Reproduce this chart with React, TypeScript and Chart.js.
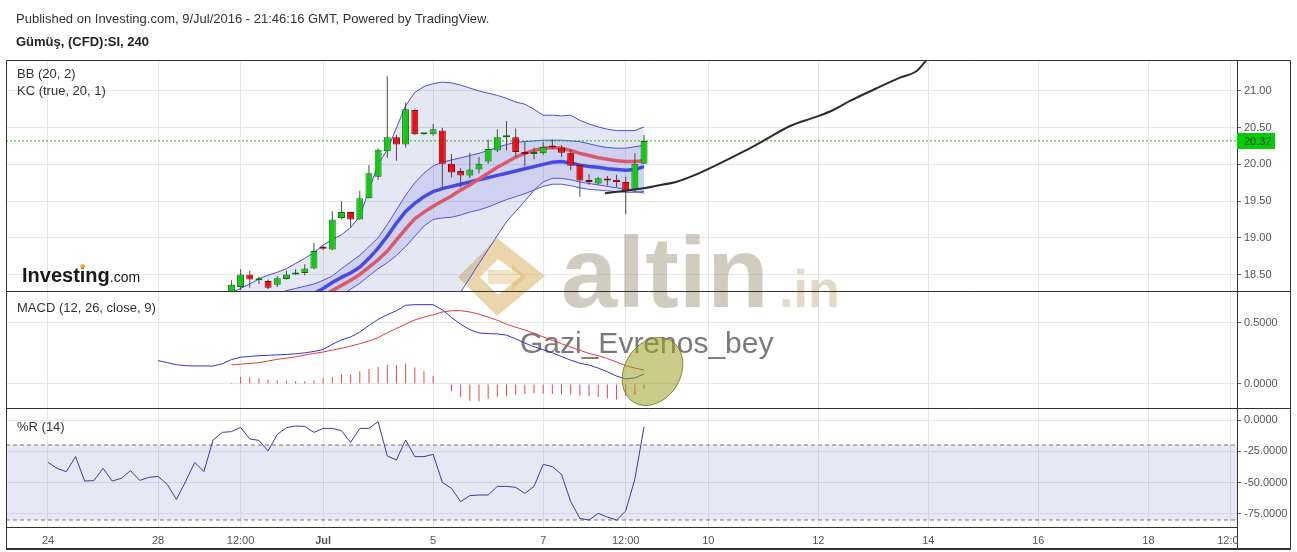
import React, { useEffect, useRef } from 'react';
import { Chart, registerables } from 'chart.js';

// ---------- texts ----------
const HEADER = 'Published on Investing.com, 9/Jul/2016 - 21:46:16 GMT, Powered by TradingView.';
const SYMBOL = 'Gümüş, (CFD):SI, 240';
const BB_LABEL = 'BB (20, 2)';
const KC_LABEL = 'KC (true, 20, 1)';
const MACD_LABEL = 'MACD (12, 26, close, 9)';
const WR_LABEL = '%R (14)';

// ---------- x axis (bar index, 4h bars) ----------
const X_MIN = -4.58;
const X_MAX = 129.66;
const X_TICK_POS = [0, 12, 21, 30, 42, 54, 63, 72, 84, 96, 108, 120, 129];
const X_TICK_LABELS = ['24', '28', '12:00', 'Jul', '5', '7', '12:00', '10', '12', '14', '16', '18', '12:00'];

// ---------- y axes ----------
const PRICE_MIN = 18.275;
const PRICE_MAX = 21.422;
const PRICE_TICKS = [18.5, 19, 19.5, 20, 20.5, 21];
const MACD_MIN = -0.197;
const MACD_MAX = 0.762;
const MACD_TICKS = [0, 0.5];
const WR_MIN = -85.6;
const WR_MAX = 9.6;
const WR_TICKS = [-75, -50, -25, 0];
const WR_BANDS = [-20, -80];
const LAST_PRICE = 20.32;

// ---------- candles (index 20..65) ----------
const CANDLE_START = 20;
const OPEN = [18.24, 18.33, 18.5, 18.42, 18.41, 18.36, 18.44, 18.5, 18.52, 18.58, 18.86, 18.84, 19.27, 19.35, 19.25, 19.54, 19.83, 20.18, 20.37, 20.27, 20.74, 20.41, 20.41, 20.46, 20.01, 19.91, 19.85, 19.93, 20.04, 20.19, 20.37, 20.37, 20.17, 20.14, 20.15, 20.25, 20.23, 20.16, 19.99, 19.78, 19.74, 19.8, 19.79, 19.76, 19.65, 20.01];
const HIGH = [18.42, 18.57, 18.55, 18.47, 18.43, 18.48, 18.55, 18.57, 18.64, 18.93, 18.89, 19.36, 19.5, 19.35, 19.64, 19.99, 20.22, 21.2, 20.4, 20.84, 20.76, 20.42, 20.55, 20.5, 20.14, 19.95, 20.16, 20.1, 20.34, 20.48, 20.59, 20.49, 20.31, 20.23, 20.3, 20.34, 20.26, 20.2, 19.99, 19.87, 19.83, 19.84, 19.86, 19.83, 20.15, 20.4];
const LOW = [18.18, 18.29, 18.32, 18.37, 18.3, 18.33, 18.43, 18.49, 18.49, 18.57, 18.83, 18.83, 19.25, 19.14, 19.25, 19.54, 19.79, 20.09, 20.05, 20.23, 20.4, 20.4, 20.39, 19.69, 19.82, 19.69, 19.81, 19.88, 20.01, 20.17, 20.19, 20.1, 19.97, 20.07, 20.13, 20.21, 20.1, 19.92, 19.56, 19.72, 19.72, 19.71, 19.69, 19.32, 19.63, 20.01];
const CLOSE = [18.36, 18.5, 18.43, 18.43, 18.32, 18.45, 18.5, 18.52, 18.58, 18.82, 18.85, 19.25, 19.35, 19.25, 19.54, 19.88, 20.2, 20.37, 20.27, 20.75, 20.41, 20.42, 20.48, 20.01, 19.89, 19.85, 19.93, 20.01, 20.21, 20.37, 20.38, 20.17, 20.14, 20.17, 20.24, 20.23, 20.16, 19.98, 19.78, 19.76, 19.81, 19.78, 19.76, 19.64, 20.01, 20.32];

// ---------- Bollinger Bands (20, 2) ----------
const BB_START = 18;
const BB_UPPER = [18.12, 18.18, 18.25, 18.31, 18.37, 18.44, 18.49, 18.53, 18.58, 18.65, 18.72, 18.8, 18.9, 18.98, 19.04, 19.14, 19.29, 19.65, 20.0, 20.2, 20.5, 20.8, 20.98, 21.06, 21.1, 21.12, 21.11, 21.08, 21.04, 21.0, 20.97, 20.94, 20.9, 20.85, 20.82, 20.75, 20.67, 20.67, 20.66, 20.67, 20.6, 20.55, 20.51, 20.48, 20.46, 20.46, 20.46, 20.51];
const BB_LOWER = [17.8, 17.82, 17.84, 17.86, 17.88, 17.9, 17.93, 17.95, 17.97, 17.99, 18.01, 18.02, 18.02, 18.0, 17.98, 17.93, 17.85, 17.72, 17.62, 17.55, 17.5, 17.48, 17.55, 17.65, 17.78, 17.92, 18.08, 18.26, 18.45, 18.65, 18.84, 19.03, 19.22, 19.36, 19.5, 19.65, 19.76, 19.81, 19.81, 19.79, 19.76, 19.74, 19.72, 19.7, 19.68, 19.66, 19.63, 19.61];
const BB_BASIS_START = 27;
const BB_BASIS = [18.05, 18.1, 18.15, 18.21, 18.28, 18.35, 18.42, 18.5, 18.6, 18.7, 18.82, 18.97, 19.12, 19.26, 19.35, 19.43, 19.5, 19.57, 19.65, 19.72, 19.8, 19.88, 19.96, 20.03, 20.1, 20.15, 20.19, 20.22, 20.23, 20.22, 20.19, 20.15, 20.12, 20.09, 20.07, 20.05, 20.04, 20.04, 20.05];

// ---------- Keltner Channel (true, 20, 1) ----------
const KC_START = 23;
const KC_UPPER = [18.18, 18.21, 18.24, 18.28, 18.31, 18.34, 18.37, 18.42, 18.48, 18.58, 18.67, 18.76, 18.88, 19.0, 19.18, 19.38, 19.58, 19.75, 19.88, 19.98, 20.03, 20.06, 20.09, 20.12, 20.15, 20.19, 20.23, 20.27, 20.3, 20.31, 20.32, 20.33, 20.33, 20.33, 20.32, 20.31, 20.28, 20.25, 20.23, 20.22, 20.22, 20.24, 20.26];
const KC_LOWER = [17.85, 17.88, 17.91, 17.94, 17.97, 18.01, 18.05, 18.11, 18.17, 18.22, 18.3, 18.38, 18.48, 18.58, 18.66, 18.76, 18.88, 19.02, 19.16, 19.25, 19.27, 19.28, 19.31, 19.35, 19.38, 19.42, 19.47, 19.52, 19.56, 19.6, 19.65, 19.7, 19.73, 19.73, 19.71, 19.68, 19.66, 19.65, 19.64, 19.63, 19.62, 19.62, 19.63];
const KC_BASIS_START = 26;
const KC_BASIS = [18.08, 18.13, 18.18, 18.24, 18.31, 18.39, 18.46, 18.52, 18.6, 18.72, 18.86, 19.02, 19.2, 19.36, 19.47, 19.56, 19.63, 19.67, 19.7, 19.73, 19.76, 19.79, 19.82, 19.85, 19.88, 19.91, 19.94, 19.97, 20.0, 20.03, 20.04, 20.02, 19.99, 19.97, 19.96, 19.94, 19.93, 19.92, 19.93, 19.97];

// ---------- hand-drawn projection line ----------
const FORECAST_X = [60.74, 62.74, 64.92, 66.38, 68.56, 70.37, 72.92, 75.82, 78.37, 80.92, 83.83, 85.64, 87.46, 90.37, 92.91, 94.73, 95.75];
const FORECAST_Y = [19.606, 19.638, 19.674, 19.709, 19.764, 19.846, 19.992, 20.173, 20.346, 20.523, 20.65, 20.741, 20.864, 21.037, 21.181, 21.272, 21.413];

// ---------- MACD (12, 26, close, 9) ----------
const MACD_START = 12;
const MACD_LINE = [0.191, 0.175, 0.158, 0.15, 0.148, 0.148, 0.147, 0.165, 0.2, 0.219, 0.226, 0.232, 0.235, 0.238, 0.242, 0.247, 0.255, 0.266, 0.283, 0.325, 0.361, 0.385, 0.425, 0.48, 0.53, 0.568, 0.6, 0.645, 0.65, 0.65, 0.65, 0.607, 0.545, 0.49, 0.445, 0.418, 0.413, 0.41, 0.4, 0.37, 0.335, 0.305, 0.28, 0.255, 0.225, 0.195, 0.17, 0.155, 0.13, 0.1, 0.065, 0.04, 0.05, 0.082];
const SIGNAL_START = 20;
const SIGNAL_LINE = [0.156, 0.162, 0.168, 0.175, 0.188, 0.202, 0.212, 0.222, 0.237, 0.25, 0.262, 0.277, 0.292, 0.31, 0.33, 0.352, 0.38, 0.42, 0.455, 0.49, 0.525, 0.548, 0.567, 0.59, 0.6, 0.601, 0.59, 0.572, 0.548, 0.522, 0.49, 0.465, 0.443, 0.415, 0.386, 0.358, 0.33, 0.303, 0.276, 0.25, 0.232, 0.208, 0.18, 0.15, 0.13, 0.115];
const HIST_START = 20;
const HISTOGRAM = [0.008, 0.057, 0.055, 0.044, 0.036, 0.03, 0.027, 0.022, 0.022, 0.03, 0.044, 0.057, 0.077, 0.077, 0.104, 0.123, 0.139, 0.156, 0.156, 0.167, 0.134, 0.104, 0.068, 0.002, -0.06, -0.107, -0.137, -0.142, -0.123, -0.107, -0.096, -0.087, -0.082, -0.079, -0.079, -0.082, -0.087, -0.087, -0.096, -0.101, -0.107, -0.117, -0.128, -0.096, -0.09, -0.041];

// ---------- Williams %R (14) ----------
const WR_START = 0;
const WR = [-33.9, -38.7, -41.3, -29.3, -48.8, -48.5, -38.7, -48.8, -46.7, -40.5, -48.3, -45.9, -45.1, -51.5, -63.5, -49.3, -33.9, -41.3, -16.0, -9.9, -9.3, -5.9, -15.2, -16.3, -24.8, -11.5, -6.1, -4.8, -5.1, -9.9, -6.7, -6.7, -8.5, -17.9, -6.7, -6.7, -1.3, -28.8, -32.0, -16.0, -29.3, -29.3, -27.5, -49.9, -54.7, -65.3, -60.5, -60.0, -60.0, -53.1, -53.1, -53.9, -58.7, -53.1, -35.5, -37.3, -43.5, -65.3, -78.7, -80.0, -74.7, -77.6, -80.0, -72.8, -47.2, -5.3];

// ---------- annotation ellipse (on MACD pane) ----------
const NOTE_X = 65.92;
const NOTE_Y = 0.102;

const FONT = "'Liberation Sans', Arial, Helvetica, sans-serif";

const panelClip = {
  id: 'panelClip',
  beforeDatasetDraw(chart: any, args: any) {
    const { xScale, yScale } = args.meta;
    const ctx = chart.ctx;
    ctx.save();
    ctx.beginPath();
    ctx.rect(xScale.left, yScale.top, xScale.right - xScale.left, yScale.bottom - yScale.top);
    ctx.clip();
  },
  afterDatasetDraw(chart: any) {
    chart.ctx.restore();
  },
};

Chart.register(panelClip, ...registerables);
Chart.defaults.font.family = FONT;

const series = (start: number, arr: number[]) => arr.map((v, i) => ({ x: start + i, y: v }));

const decorations = {
  id: 'decorations',
  beforeDatasetsDraw(chart: any) {
    const ctx = chart.ctx;
    ctx.save();
    // gold logo of the watermark
    ctx.fillStyle = 'rgba(214,174,86,0.5)';
    ctx.beginPath();
    ctx.moveTo(458, 277); ctx.lineTo(497, 238); ctx.lineTo(545, 276); ctx.lineTo(497, 316); ctx.closePath();
    ctx.moveTo(480, 277); ctx.lineTo(498, 259); ctx.lineTo(521, 276); ctx.lineTo(498, 295); ctx.closePath();
    ctx.fill('evenodd');
    ctx.fillStyle = 'rgba(214,174,86,0.35)';
    ctx.beginPath();
    ctx.moveTo(488, 270); ctx.lineTo(512, 270); ctx.lineTo(512, 264); ctx.lineTo(526, 277);
    ctx.lineTo(512, 290); ctx.lineTo(512, 284); ctx.lineTo(488, 284); ctx.closePath();
    ctx.fill();
    // watermark text
    ctx.textBaseline = 'alphabetic';
    ctx.textAlign = 'left';
    ctx.font = `bold 101px ${FONT}`;
    ctx.fillStyle = 'rgba(150,138,112,0.44)';
    ctx.fillText('altin', 561, 307);
    ctx.font = `bold 52px ${FONT}`;
    ctx.fillStyle = 'rgba(185,165,125,0.42)';
    ctx.fillText('.in', 779, 307);
    ctx.font = `30px ${FONT}`;
    ctx.fillStyle = 'rgba(70,70,70,0.72)';
    ctx.fillText('Gazi_Evrenos_bey', 520, 353);
    // Investing.com logo
    ctx.font = `bold 20px ${FONT}`;
    ctx.fillStyle = '#1a1a1a';
    ctx.fillText('Investing', 22, 282);
    const w = ctx.measureText('Investing').width;
    const wBefore = ctx.measureText('Invest').width;
    const wi = ctx.measureText('i').width;
    ctx.fillStyle = '#f2a31b';
    ctx.beginPath();
    ctx.arc(22 + wBefore + wi / 2, 266.5, 2.3, 0, Math.PI * 2);
    ctx.fill();
    ctx.font = `14px ${FONT}`;
    ctx.fillStyle = '#1a1a1a';
    ctx.fillText('.com', 22 + w, 282);
    ctx.restore();
  },
  afterDatasetsDraw(chart: any) {
    const ctx = chart.ctx;
    const x = chart.scales.x.getPixelForValue(NOTE_X);
    const y = chart.scales.yMacd.getPixelForValue(NOTE_Y);
    ctx.save();
    ctx.beginPath();
    ctx.ellipse(x, y, 28, 36, 0.55, 0, Math.PI * 2);
    ctx.fillStyle = 'rgba(158,158,40,0.55)';
    ctx.fill();
    ctx.strokeStyle = 'rgba(120,120,20,0.85)';
    ctx.lineWidth = 1;
    ctx.stroke();
    ctx.restore();
  },
  afterDraw(chart: any) {
    const ctx = chart.ctx;
    const yMain = chart.scales.yMain;
    const yMacd = chart.scales.yMacd;
    const yR = chart.scales.yR;
    const area = chart.chartArea;
    const right = area.right + 54;
    ctx.save();
    // blank corner below the price axis (time labels are cut there)
    ctx.fillStyle = '#fff';
    ctx.fillRect(area.right + 0.5, area.bottom + 1, right - area.right, 548 - area.bottom);
    // frame and pane separators
    ctx.strokeStyle = '#333';
    ctx.lineWidth = 1;
    ctx.beginPath();
    ctx.moveTo(area.left + 0.5, area.top + 0.5);
    ctx.lineTo(right - 0.5, area.top + 0.5);
    ctx.lineTo(right - 0.5, 548);
    ctx.moveTo(area.left + 0.5, area.top + 0.5);
    ctx.lineTo(area.left + 0.5, 548);
    ctx.moveTo(area.left, Math.round(yMain.bottom) + 0.5);
    ctx.lineTo(right, Math.round(yMain.bottom) + 0.5);
    ctx.moveTo(area.left, Math.round(yMacd.bottom) + 0.5);
    ctx.lineTo(right, Math.round(yMacd.bottom) + 0.5);
    ctx.moveTo(Math.round(area.right) + 0.5, area.bottom);
    ctx.lineTo(Math.round(area.right) + 0.5, 548);
    ctx.stroke();
    ctx.lineWidth = 2;
    ctx.beginPath();
    ctx.moveTo(area.left, 549);
    ctx.lineTo(right, 549);
    ctx.stroke();
    // header
    ctx.fillStyle = '#333';
    ctx.textAlign = 'left';
    ctx.textBaseline = 'alphabetic';
    ctx.font = `13px ${FONT}`;
    ctx.fillText(HEADER, 16, 23);
    ctx.font = `bold 13px ${FONT}`;
    ctx.fillStyle = '#222';
    ctx.fillText(SYMBOL, 16, 46);
    // pane titles
    ctx.font = `13px ${FONT}`;
    ctx.fillStyle = '#333';
    ctx.fillText(BB_LABEL, 17, yMain.top + 18);
    ctx.fillText(KC_LABEL, 17, yMain.top + 35);
    ctx.fillText(MACD_LABEL, 17, yMacd.top + 21);
    ctx.fillText(WR_LABEL, 17, yR.top + 23);
    // last price label
    const py = yMain.getPixelForValue(LAST_PRICE);
    ctx.fillStyle = '#00d000';
    ctx.fillRect(yMain.left, Math.round(py) - 8, 38, 16);
    ctx.fillStyle = '#333';
    ctx.font = `11px ${FONT}`;
    ctx.textBaseline = 'middle';
    ctx.fillText(LAST_PRICE.toFixed(2), yMain.left + 7, Math.round(py) + 0.5);
    ctx.restore();
  },
};

const GREEN = '#16c816';
const GREEN_BORDER = '#0b6e0b';
const RED = '#e80f14';
const RED_BORDER = '#860808';

function buildConfig(): any {
  const up = CLOSE.map((c, i) => c >= OPEN[i]);
  const bodies = CLOSE.map((c, i) => ({ x: CANDLE_START + i, y: [OPEN[i], c] }));
  const wicks = HIGH.map((h, i) => ({ x: CANDLE_START + i, y: [LOW[i], h] }));
  const lineBase = { type: 'line', pointRadius: 0, tension: 0, fill: false };

  const datasets: any[] = [
    // 0,1 Bollinger bands with fill
    { ...lineBase, yAxisID: 'yMain', data: series(BB_START, BB_UPPER), borderColor: '#4b4bd6', borderWidth: 1, fill: '+1', backgroundColor: 'rgba(105,111,190,0.17)', order: 20 },
    { ...lineBase, yAxisID: 'yMain', data: series(BB_START, BB_LOWER), borderColor: '#4b4bd6', borderWidth: 1, order: 20 },
    // 2,3 Keltner channel with fill
    { ...lineBase, yAxisID: 'yMain', data: series(KC_START, KC_UPPER), borderColor: '#5050dc', borderWidth: 1, fill: '+1', backgroundColor: 'rgba(110,118,225,0.2)', order: 19 },
    { ...lineBase, yAxisID: 'yMain', data: series(KC_START, KC_LOWER), borderColor: '#5050dc', borderWidth: 1, order: 19 },
    // 4,5 basis lines
    { ...lineBase, yAxisID: 'yMain', data: series(KC_BASIS_START, KC_BASIS), borderColor: '#4848e8', borderWidth: 3.5, order: 18 },
    { ...lineBase, yAxisID: 'yMain', data: series(BB_BASIS_START, BB_BASIS), borderColor: '#dc5868', borderWidth: 3.5, order: 17 },
    // 6 projection line
    { ...lineBase, yAxisID: 'yMain', data: FORECAST_X.map((x, i) => ({ x, y: FORECAST_Y[i] })), borderColor: '#2b2b2b', borderWidth: 2, cubicInterpolationMode: 'monotone', order: 3 },
    // 7 last price line
    { ...lineBase, yAxisID: 'yMain', data: [{ x: X_MIN, y: LAST_PRICE }, { x: X_MAX, y: LAST_PRICE }], borderColor: '#14b414', borderWidth: 1, borderDash: [2, 2], order: 16 },
    // 8 wicks
    { type: 'bar', yAxisID: 'yMain', data: wicks, backgroundColor: '#4a4a4a', barThickness: 1, grouped: false, inflateAmount: 0, borderWidth: 0, order: 6 },
    // 9 bodies
    {
      type: 'bar', yAxisID: 'yMain', data: bodies, grouped: false, barThickness: 7, minBarLength: 2, inflateAmount: 0,
      backgroundColor: up.map((u) => (u ? GREEN : RED)),
      borderColor: up.map((u) => (u ? GREEN_BORDER : RED_BORDER)),
      borderWidth: 1, borderSkipped: false, order: 5,
    },
    // 10 MACD histogram
    { type: 'bar', yAxisID: 'yMacd', data: series(HIST_START, HISTOGRAM), backgroundColor: '#e2474f', barThickness: 1, grouped: false, inflateAmount: 0, borderWidth: 0, order: 12 },
    // 11 MACD line
    { ...lineBase, yAxisID: 'yMacd', data: series(MACD_START, MACD_LINE), borderColor: '#3232d2', borderWidth: 1, order: 11 },
    // 12 signal line
    { ...lineBase, yAxisID: 'yMacd', data: series(SIGNAL_START, SIGNAL_LINE), borderColor: '#e23a3a', borderWidth: 1, order: 10 },
    // 13,14 %R bands
    { ...lineBase, yAxisID: 'yR', data: [{ x: X_MIN, y: WR_BANDS[0] }, { x: X_MAX, y: WR_BANDS[0] }], borderColor: '#777', borderWidth: 1, borderDash: [4, 3], fill: '+1', backgroundColor: 'rgba(110,112,200,0.17)', order: 14 },
    { ...lineBase, yAxisID: 'yR', data: [{ x: X_MIN, y: WR_BANDS[1] }, { x: X_MAX, y: WR_BANDS[1] }], borderColor: '#777', borderWidth: 1, borderDash: [4, 3], order: 14 },
    // 15 %R line
    { ...lineBase, yAxisID: 'yR', data: series(WR_START, WR), borderColor: '#3c3c9c', borderWidth: 1, order: 9 },
  ];

  const yCommon = (ticks: number[], digits: number) => ({
    type: 'linear',
    position: 'right',
    stack: 'panes',
    bounds: 'data',
    beginAtZero: false,
    grid: { color: '#e6e6e6', tickColor: '#666', tickLength: 4, drawTicks: true },
    border: { display: true, color: '#333' },
    ticks: { color: '#555', font: { size: 11 }, padding: 3, callback: (v: any) => Number(v).toFixed(digits) },
    afterBuildTicks: (s: any) => { s.ticks = ticks.map((value) => ({ value })); },
    afterFit: (s: any) => { s.width = 54; },
  });

  return {
    type: 'line',
    data: { datasets },
    plugins: [decorations],
    options: {
      animation: false,
      responsive: false,
      devicePixelRatio: 1,
      events: [],
      layout: { padding: { left: 6, top: 60, right: 6, bottom: 4 } },
      plugins: { legend: { display: false }, tooltip: { enabled: false }, title: { display: false } },
      scales: {
        x: {
          type: 'linear', min: X_MIN, max: X_MAX, offset: false, position: 'bottom',
          grid: { color: '#e6e6e6', drawTicks: false, offset: false },
          border: { display: true, color: '#333' },
          ticks: {
            autoSkip: false, maxRotation: 0, color: '#555', padding: 7,
            font: (c: any) => ({ size: 11, weight: c.tick && c.tick.label === 'Jul' ? 'bold' : 'normal' }),
            callback: (v: any) => { const i = X_TICK_POS.indexOf(Number(v)); return i >= 0 ? X_TICK_LABELS[i] : ''; },
          },
          afterBuildTicks: (s: any) => { s.ticks = X_TICK_POS.map((value) => ({ value })); },
          afterFit: (s: any) => { s.height = 21; },
        },
        yMain: { ...yCommon(PRICE_TICKS, 2), min: PRICE_MIN, max: PRICE_MAX, stackWeight: 231, weight: 1 },
        yMacd: { ...yCommon(MACD_TICKS, 4), min: MACD_MIN, max: MACD_MAX, stackWeight: 117, weight: 2 },
        yR: { ...yCommon(WR_TICKS, 4), min: WR_MIN, max: WR_MAX, stackWeight: 119, weight: 3 },
      },
    },
  };
}

export default function App() {
  const ref = useRef<HTMLCanvasElement>(null);
  useEffect(() => {
    const canvas = ref.current;
    if (!canvas) return;
    const chart = new Chart(canvas, buildConfig());
    return () => chart.destroy();
  }, []);
  return (
    <div style={{ position: 'absolute', left: 0, top: 0, width: 1297, height: 552, background: '#fff' }}>
      <canvas ref={ref} width={1297} height={552} style={{ display: 'block', width: 1297, height: 552 }} />
    </div>
  );
}
